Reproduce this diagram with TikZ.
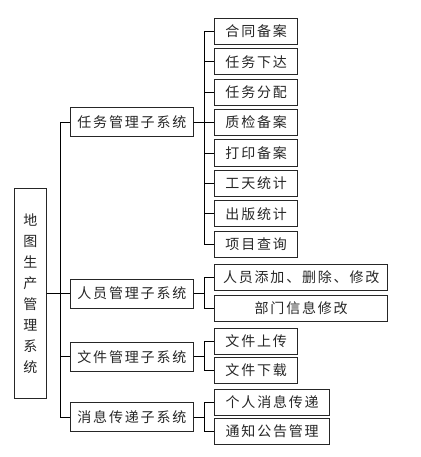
\documentclass[tikz,border=0pt]{standalone}
\usepackage{fontspec}
\newfontfamily\cjk[LetterSpace=13]{Noto Sans CJK SC}
\tikzstyle{every node}=[font=\cjk\fontsize{14}{21}\selectfont, text=black!85]
\tikzstyle{box}=[draw=black!85, thick, inner sep=0pt, minimum height=26pt, anchor=west]

\begin{document}
\begin{tikzpicture}[x=1pt, y=-1pt, line width=0.7pt]
\useasboundingbox (0,0) rectangle (420,457);
%root
\node[box, anchor=center, minimum width=32pt, minimum height=210pt, align=center] (root) at (30.3,293.5)
{地\\图\\生\\产\\管\\理\\系\\统};
%subsystems
\foreach \name/\y/\txt in {
	task/122.2/任务管理子系统,
	staff/293.5/人员管理子系统,
	file/356.7/文件管理子系统,
	msg/417.2/消息传递子系统
}
\node[box, minimum width=122.4pt, minimum height=29pt] (\name) at (70.3,\y) {\txt};
\foreach \name in {task,staff,file,msg}
\draw (root.east) -- ++(13.7,0) |- (\name.west);
%task leaves
\foreach \txt [count=\i from 0] in {合同备案,任务下达,任务分配,质检备案,打印备案,工天统计,出版统计,项目查询}
{
	\node[box, minimum width=83pt] (task\i) at (214.3,31.3+30.4*\i) {\txt};
	\draw (task.east) -- ++(10.6,0) |- (task\i.west);
}
%staff leaves
\node[box, minimum width=173pt] (staff0) at (214.3,277.5) {人员添加、删除、修改};
\node[box, minimum width=173pt] (staff1) at (214.3,308) {部门信息修改};
%file leaves
\node[box, minimum width=83pt] (file0) at (214.3,341.3) {文件上传};
\node[box, minimum width=83pt] (file1) at (214.3,370.3) {文件下载};
%msg leaves
\node[box, minimum width=115pt] (msg0) at (214.3,402.3) {个人消息传递};
\node[box, minimum width=115pt] (msg1) at (214.3,431.3) {通知公告管理};
\foreach \name in {staff,file,msg}
\foreach \i in {0,1}
\draw (\name.east) -- ++(10.6,0) |- (\name\i.west);
\end{tikzpicture}
\end{document}
